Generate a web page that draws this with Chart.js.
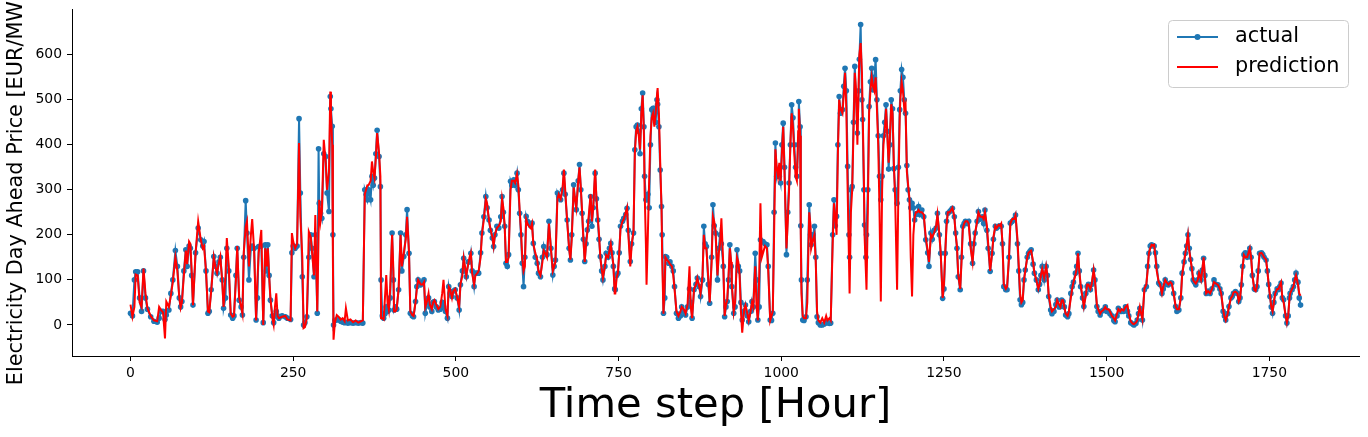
<!DOCTYPE html>
<html>
<head>
<meta charset="utf-8">
<script src="https://cdn.jsdelivr.net/npm/chart.js@4.4.0/dist/chart.umd.min.js"></script>
<style>
  html, body { margin: 0; padding: 0; background: #fff; }
  #wrap { width: 1368px; height: 437px; }
</style>
</head>
<body>
<div id="wrap"><canvas id="priceChart" width="1368" height="437"></canvas></div>
<script>
// time steps (hours), with the two series at each step
const hours = [
  0,3,6,8,11,14,17,20,23,26,31,36,41,44,47,50,53,55,59,62,
  65,69,72,75,77,79,82,85,87,90,92,94,96,100,104,108,111,113,116,119,
  121,124,128,131,133,136,138,141,143,146,148,151,154,157,159,162,164,167,170,172,
  174,177,179,182,185,187,190,193,195,197,201,204,207,209,211,213,215,218,220,222,
  224,226,228,233,238,241,246,248,250,253,256,259,261,264,266,268,271,274,277,279,
  282,284,287,289,290,292,294,297,300,302,305,307,308,310,311,312,314,317,320,323,
  326,329,331,334,338,342,346,350,354,357,360,362,364,366,369,371,373,375,377,379,
  382,384,385,387,389,391,393,395,397,399,402,404,405,407,409,412,415,417,420,423,
  425,428,430,433,435,438,440,442,444,446,449,451,453,456,458,460,463,465,467,470,
  473,476,479,481,484,487,489,491,494,496,499,502,505,507,510,512,514,516,519,521,
  523,525,528,530,533,535,538,540,543,546,548,551,553,556,558,560,563,566,569,571,
  573,575,577,579,581,584,586,589,591,594,596,598,600,602,604,606,608,610,612,615,
  617,619,622,625,627,630,633,635,637,640,643,646,649,651,653,656,658,661,664,666,
  668,671,674,676,678,681,683,685,688,690,692,694,696,698,700,702,704,707,709,711,
  714,716,718,720,722,724,726,729,731,734,736,738,740,742,744,745,747,749,751,753,
  756,758,761,763,765,768,770,773,775,777,779,781,783,785,787,789,790,792,793,795,
  797,799,801,803,805,807,809,810,812,814,816,817,819,821,822,824,827,829,832,834,
  836,839,842,845,847,850,853,856,859,861,863,866,869,871,874,876,879,881,883,885,
  888,890,893,895,897,899,902,904,906,908,911,913,915,917,919,921,923,924,927,929,
  932,934,936,938,940,943,945,948,950,953,955,957,960,962,964,966,968,970,972,975,
  978,980,983,985,987,989,991,993,995,997,999,1001,1003,1005,1008,1010,1012,1014,1016,1018,
  1020,1022,1024,1026,1027,1029,1030,1031,1033,1035,1038,1040,1043,1045,1046,1049,1051,1053,1055,1057,
  1060,1063,1066,1069,1071,1074,1076,1079,1081,1083,1085,1087,1089,1091,1094,1096,1098,1100,1102,1104,
  1105,1107,1109,1111,1113,1115,1117,1119,1120,1122,1124,1125,1127,1128,1130,1131,1133,1135,1137,1139,
  1141,1143,1145,1147,1149,1151,1153,1155,1157,1159,1161,1163,1165,1167,1169,1171,1173,1175,1178,1180,
  1182,1183,1185,1187,1189,1191,1193,1195,1197,1199,1201,1203,1205,1207,1209,1211,1213,1216,1219,1222,
  1225,1227,1230,1232,1235,1238,1240,1243,1245,1248,1250,1252,1254,1256,1259,1261,1263,1266,1268,1270,
  1272,1275,1277,1279,1281,1283,1286,1288,1291,1294,1296,1298,1301,1303,1306,1309,1311,1313,1316,1318,
  1321,1324,1326,1329,1331,1334,1336,1338,1340,1342,1345,1347,1350,1352,1355,1358,1360,1363,1365,1367,
  1369,1371,1373,1375,1378,1380,1382,1384,1387,1389,1392,1395,1397,1399,1401,1404,1407,1409,1411,1414,
  1416,1419,1422,1424,1427,1429,1431,1433,1435,1437,1440,1442,1445,1447,1449,1452,1454,1456,1458,1460,
  1463,1465,1468,1470,1472,1475,1477,1480,1482,1485,1487,1490,1492,1495,1498,1500,1503,1505,1508,1511,
  1513,1516,1518,1521,1523,1526,1529,1532,1534,1537,1540,1542,1545,1547,1549,1551,1553,1555,1558,1561,
  1563,1565,1567,1569,1571,1573,1575,1577,1580,1582,1585,1587,1590,1592,1595,1598,1600,1603,1606,1608,
  1611,1614,1616,1619,1621,1623,1625,1627,1629,1631,1633,1635,1637,1640,1642,1645,1647,1649,1651,1653,
  1656,1659,1662,1665,1668,1671,1674,1676,1679,1681,1683,1686,1688,1691,1693,1695,1698,1701,1703,1705,
  1707,1709,1711,1713,1716,1718,1720,1722,1724,1727,1729,1731,1733,1735,1738,1740,1742,1745,1747,1749,
  1751,1753,1755,1757,1759,1762,1764,1766,1768,1770,1772,1775,1777,1779,1781,1782,1785,1787,1789,1791,
  1794,1796,1798
];

const actual = [
  26,20,100,118,118,60,30,120,60,35,18,8,6,15,30,30,12,22,33,70,
  100,165,130,60,40,52,120,167,130,175,170,110,44,160,215,189,175,185,120,26,
  30,78,152,130,115,140,150,100,37,60,170,120,22,15,20,110,170,55,40,22,
  150,276,204,100,170,175,170,11,60,174,175,5,178,120,178,110,55,20,5,20,
  30,20,15,20,18,15,12,160,175,170,175,458,293,107,0,5,18,150,200,170,
  107,200,26,391,270,248,237,380,374,293,252,507,480,441,200,0,10,11,12,8,
  6,5,6,4,5,4,5,4,5,4,300,290,278,300,278,330,310,326,380,432,
  374,307,100,20,15,25,40,30,33,60,204,100,33,40,35,78,204,120,152,200,
  256,159,26,20,18,52,85,100,90,89,95,100,26,50,60,40,30,50,52,40,
  33,35,50,40,30,15,85,70,63,75,78,60,33,89,120,148,120,107,140,140,
  159,120,85,115,115,115,160,204,240,285,260,233,210,193,174,200,219,215,240,285,
  250,219,137,130,156,319,310,322,310,337,300,248,200,137,85,150,241,230,226,220,
  226,181,150,137,115,107,150,174,160,156,230,170,111,130,144,293,285,278,300,337,
  290,233,170,144,200,311,280,256,320,356,300,248,190,141,180,211,230,285,219,260,
  337,280,233,190,152,120,100,130,159,150,170,181,160,130,80,78,110,115,160,219,
  230,237,245,259,210,141,180,204,389,440,444,430,380,480,515,440,330,278,278,290,
  260,400,478,481,481,450,500,490,440,344,263,200,26,60,152,150,137,140,130,120,
  85,26,15,20,40,30,22,40,80,50,15,78,90,104,85,63,100,219,180,174,
  90,48,150,267,220,204,100,170,200,180,130,18,40,52,100,178,130,85,26,40,
  167,130,120,50,11,30,44,20,7,30,52,40,159,100,11,40,189,185,185,180,
  178,130,11,10,26,250,404,330,344,330,315,400,448,350,156,250,315,400,489,460,
  400,350,330,400,496,440,220,100,11,10,18,100,267,200,178,200,219,150,18,5,
  0,0,2,5,5,3,4,200,278,220,241,400,507,470,478,530,570,520,352,200,
  150,300,307,450,574,500,426,520,590,667,500,456,300,222,150,200,300,485,540,570,
  522,550,589,500,420,330,278,330,420,450,489,430,346,400,500,480,347,300,270,350,
  478,520,567,550,500,470,354,300,278,260,270,260,233,245,248,263,245,255,240,189,
  160,130,204,190,210,215,248,200,159,59,80,159,230,248,252,255,259,240,204,170,
  107,78,150,219,225,230,225,230,180,137,180,204,230,252,235,240,225,255,210,170,
  119,159,190,219,215,219,220,219,180,85,78,78,150,226,230,235,244,180,120,56,
  45,50,100,122,150,159,163,167,135,115,100,78,90,110,130,100,130,110,63,33,
  25,30,45,55,40,41,55,52,40,22,18,25,70,85,95,115,130,159,120,85,
  60,41,70,85,90,78,90,122,100,41,30,22,30,33,40,30,30,25,20,10,
  7,20,37,30,30,30,40,30,20,5,2,0,3,11,25,37,30,11,78,85,
  130,159,175,178,176,175,160,130,93,90,70,80,100,90,89,93,93,70,41,30,
  33,60,115,140,159,175,200,170,145,125,100,95,89,100,115,100,122,148,110,70,
  75,70,80,100,90,89,80,70,30,20,11,25,41,60,63,70,74,70,52,60,
  89,130,156,160,150,160,170,150,110,80,78,85,120,159,160,156,150,144,120,90,
  63,40,26,50,70,80,78,85,93,60,56,20,4,20,60,70,78,85,100,115,
  95,60,44
];

const prediction = [
  45,18,40,112,110,50,40,125,70,37,20,10,8,40,33,28,-30,52,40,65,
  95,150,120,60,38,50,110,165,135,185,180,120,44,160,230,189,170,175,120,30,
  28,75,150,125,115,140,152,95,40,110,193,130,25,18,20,100,175,60,40,25,
  160,218,230,130,200,235,165,10,100,160,211,0,170,130,170,110,60,15,0,40,
  70,20,15,18,20,12,10,204,185,170,180,404,240,150,-7,-5,15,207,195,160,
  110,244,30,200,278,230,250,411,360,300,340,518,470,400,150,-33,5,22,18,12,
  15,8,37,10,12,6,10,5,8,10,290,300,310,311,320,363,340,326,370,426,
  380,330,15,15,12,60,111,50,33,80,200,120,30,30,35,80,200,130,160,190,
  240,160,30,22,20,50,80,100,95,90,90,95,40,55,70,45,35,50,55,45,
  35,40,70,100,35,20,85,80,60,75,80,60,40,90,110,148,130,110,135,150,
  160,115,90,110,115,120,150,200,235,280,270,230,215,195,175,200,215,220,230,280,
  260,220,140,140,150,300,320,320,315,335,310,255,210,150,120,130,235,225,220,215,
  225,180,160,145,120,110,140,165,160,150,225,170,120,130,140,280,290,280,305,345,
  300,230,170,145,190,305,280,260,320,350,305,250,190,140,180,205,240,290,230,260,
  345,280,240,200,150,125,105,130,155,150,165,180,155,135,70,70,105,115,160,215,
  230,235,250,260,200,130,175,210,380,430,440,420,390,470,510,420,300,180,89,200,
  320,420,460,470,440,470,510,526,470,360,260,150,25,100,150,145,140,135,130,110,
  80,30,20,30,40,35,25,45,130,40,15,80,90,104,85,70,110,200,170,170,
  100,50,140,241,230,210,110,160,180,237,130,20,45,55,110,170,140,90,30,50,
  150,140,110,30,-17,35,44,25,10,30,50,40,130,40,10,100,270,150,160,175,
  170,120,10,20,30,200,390,350,330,360,320,380,440,340,170,230,300,400,470,440,
  380,330,320,430,480,420,200,70,20,15,15,50,250,220,170,190,200,140,30,10,
  5,15,5,20,10,15,10,180,270,240,200,380,500,480,470,510,560,480,300,150,
  70,250,300,430,560,520,400,540,600,626,560,480,320,200,120,78,250,470,520,550,
  530,520,550,480,400,250,52,300,400,430,480,420,360,420,490,470,360,280,78,300,
  460,500,540,520,480,490,340,310,280,150,63,200,240,250,250,255,250,250,245,195,
  165,140,200,195,205,220,245,200,160,60,90,160,220,250,250,255,260,240,200,175,
  110,80,140,215,225,230,230,225,170,140,180,205,230,250,240,240,235,250,220,180,
  120,160,195,220,215,222,220,225,180,90,80,85,150,225,235,235,244,190,130,70,
  50,55,100,120,150,160,163,165,140,115,100,80,90,110,125,105,130,110,65,40,
  30,35,40,55,45,40,55,55,40,25,20,30,60,80,95,110,125,159,120,90,
  60,41,65,90,90,80,90,122,100,45,35,25,30,33,40,35,35,30,20,15,
  10,25,35,30,35,32,40,44,25,8,3,2,5,10,25,40,25,12,80,90,
  120,160,170,178,176,178,150,120,95,90,70,85,100,95,90,95,92,70,41,35,
  35,60,110,140,160,180,200,165,145,125,100,95,92,100,115,100,122,150,105,70,
  75,70,80,95,92,89,80,70,35,18,10,25,41,60,63,72,74,70,52,58,
  89,128,155,150,150,160,170,150,110,78,75,85,120,159,160,156,150,145,120,90,
  65,40,30,50,70,80,80,88,95,60,50,20,5,20,60,70,80,85,100,110,
  90,70,65
];

const seriesNames = ['actual', 'prediction'];
const xTickValues = [0, 250, 500, 750, 1000, 1250, 1500, 1750];
const yTickValues = [0, 100, 200, 300, 400, 500, 600];
const xTitle = 'Time step [Hour]';
const yTitle = 'Electricity Day Ahead Price [EUR/MWh]';

const FONT = 'DejaVu Sans';
const BLUE = '#1f77b4';
const RED = '#ff0000';

// y label drawn by hand: Chart.js squeezes a title longer than the axis
const yLabelPlugin = {
    id: 'yLabel',
    afterDraw(chart) {
        const ctx = chart.ctx;
        const area = chart.chartArea;
        ctx.save();
        ctx.translate(16.5, (area.top + area.bottom) / 2);
        ctx.rotate(-Math.PI / 2);
        ctx.font = '20.8px "' + FONT + '"';
        ctx.fillStyle = '#000';
        ctx.textAlign = 'center';
        ctx.textBaseline = 'middle';
        ctx.fillText(yTitle, 0, 0);
        ctx.restore();
    }
};

// matplotlib style legend box, upper right inside the axes
const legendPlugin = {
    id: 'mplLegend',
    afterDraw(chart) {
        const ctx = chart.ctx;
        const area = chart.chartArea;
        const w = 180, h = 67;
        const x = area.right - 11 - w, y = area.top + 11;
        ctx.save();
        ctx.beginPath();
        ctx.roundRect(x + 0.5, y + 0.5, w, h, 4);
        ctx.fillStyle = 'rgba(255,255,255,0.8)';
        ctx.fill();
        ctx.strokeStyle = '#cccccc';
        ctx.lineWidth = 1;
        ctx.stroke();

        const colors = [BLUE, RED];
        ctx.font = '20.8px "' + FONT + '"';
        ctx.textBaseline = 'middle';
        ctx.textAlign = 'left';
        seriesNames.forEach((name, i) => {
            const ly = y + 17 + i * 30;
            ctx.strokeStyle = colors[i];
            ctx.lineWidth = 2;
            ctx.beginPath();
            ctx.moveTo(x + 9, ly);
            ctx.lineTo(x + 50, ly);
            ctx.stroke();
            if (i === 0) {
                ctx.fillStyle = BLUE;
                ctx.beginPath();
                ctx.arc(x + 29.5, ly, 3, 0, Math.PI * 2);
                ctx.fill();
            }
            ctx.fillStyle = '#000';
            ctx.fillText(name, x + 67, ly);
        });
        ctx.restore();
    }
};

const tickFont = { family: FONT, size: 13.9 };

new Chart(document.getElementById('priceChart'), {
    type: 'line',
    data: {
        datasets: [
            {
                label: seriesNames[1],
                data: hours.map((h, i) => ({ x: h, y: prediction[i] })),
                borderColor: RED,
                borderWidth: 2,
                pointRadius: 0,
                tension: 0,
                order: 0
            },
            {
                label: seriesNames[0],
                data: hours.map((h, i) => ({ x: h, y: actual[i] })),
                borderColor: BLUE,
                backgroundColor: BLUE,
                borderWidth: 2,
                pointRadius: 2.8,
                pointBorderWidth: 0,
                pointBackgroundColor: BLUE,
                tension: 0,
                order: 1
            }
        ]
    },
    options: {
        responsive: false,
        animation: false,
        layout: { padding: { top: 9, right: 9, left: 0, bottom: 0 } },
        plugins: { legend: { display: false }, tooltip: { enabled: false } },
        scales: {
            x: {
                type: 'linear',
                min: -89.9,
                max: 1887.8,
                afterBuildTicks: s => { s.ticks = xTickValues.map(v => ({ value: v })); },
                afterFit: s => { s.height = 81; s.paddingLeft = 0; s.paddingRight = 0; },
                ticks: { font: tickFont, color: '#000', padding: 4, autoSkip: false, maxRotation: 0, callback: v => String(v) },
                grid: { display: true, drawOnChartArea: false, drawTicks: true, tickLength: 5, color: '#000', tickWidth: 1 },
                border: { display: true, color: '#000', width: 1 },
                title: { display: true, text: xTitle, color: '#000', font: { family: FONT, size: 41.7 }, padding: { top: 0, bottom: 6 } }
            },
            y: {
                min: -69,
                max: 701.5,
                afterBuildTicks: s => { s.ticks = yTickValues.map(v => ({ value: v })); },
                afterFit: s => { s.width = 72; s.paddingTop = 0; s.paddingBottom = 0; },
                ticks: { font: tickFont, color: '#000', padding: 5, autoSkip: false, callback: v => String(v) },
                grid: { display: true, drawOnChartArea: false, drawTicks: true, tickLength: 5, color: '#000', tickWidth: 1 },
                border: { display: true, color: '#000', width: 1 }
            }
        }
    },
    plugins: [yLabelPlugin, legendPlugin]
});
</script>
</body>
</html>
